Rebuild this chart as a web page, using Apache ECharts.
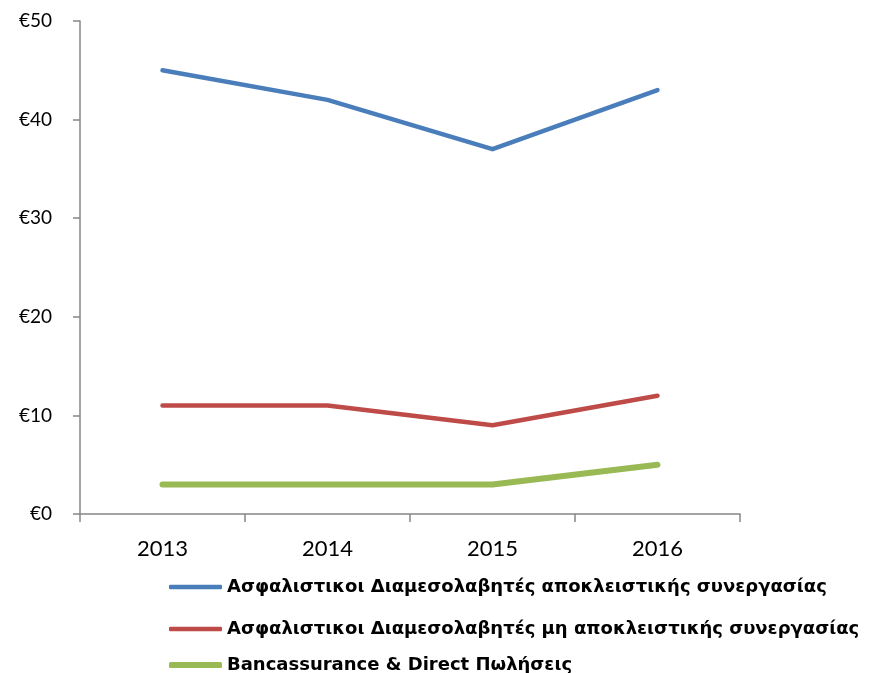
<!DOCTYPE html>
<html>
<head>
<meta charset="utf-8">
<script src="https://cdn.jsdelivr.net/npm/echarts@6/dist/echarts.min.js"></script>
<style>
  html, body { margin: 0; padding: 0; background: #fff; }
  #chart { width: 870px; height: 673px; }
</style>
</head>
<body>
<div id="chart"></div>
<script>
// years on the x axis
var years = ['2013', '2014', '2015', '2016'];
// series names (legend)
var names = [
  'Ασφαλιστικοι Διαμεσολαβητές αποκλειστικής συνεργασίας',
  'Ασφαλιστικοι Διαμεσολαβητές μη αποκλειστικής συνεργασίας',
  'Bancassurance & Direct Πωλήσεις'
];
// values in euro
var exclusive = [45, 42, 37, 43];
var nonExclusive = [11, 11, 9, 12];
var bancassurance = [3, 3, 3, 5];

var colors = ['#4a7ebb', '#be4b48', '#98b954'];
var widths = [4.5, 4.5, 6];
var legendTops = [573, 615, 651];

var myChart = echarts.init(document.getElementById('chart'));

// one legend per row, the rows are not evenly spaced in the original
var legends = names.map(function (n, i) {
  return {
    data: [n],
    left: 164,
    top: legendTops[i],
    icon: 'roundRect',
    itemWidth: 53,
    itemHeight: widths[i],
    itemGap: 3,
    textStyle: {
      fontFamily: 'DejaVu Sans',
      fontWeight: 'bold',
      fontSize: 18,
      color: '#000'
    }
  };
});

var option = {
  animation: false,
  color: colors,
  legend: legends,
  grid: { left: 80, right: 130, top: 21, bottom: 159 },
  xAxis: {
    type: 'category',
    data: years,
    boundaryGap: true,
    axisLine: { lineStyle: { color: '#868686', width: 1.5 } },
    axisTick: { show: true, length: 8, lineStyle: { color: '#868686', width: 1.5 } },
    axisLabel: { color: '#000', fontSize: 22, fontFamily: 'Lato', margin: 24 }
  },
  yAxis: {
    type: 'value',
    min: 0,
    max: 50,
    interval: 10,
    axisLine: { show: true, lineStyle: { color: '#868686', width: 1.5 } },
    axisTick: { show: true, length: 7, lineStyle: { color: '#868686', width: 1.5 } },
    splitLine: { show: false },
    axisLabel: {
      color: '#000', fontSize: 19, fontFamily: 'Lato', margin: 28,
      formatter: function (v) { return '€' + v; }
    }
  },
  series: [exclusive, nonExclusive, bancassurance].map(function (d, i) {
    return {
      name: names[i],
      type: 'line',
      data: d,
      symbol: 'none',
      lineStyle: { width: widths[i], cap: 'round', join: 'round', color: colors[i] }
    };
  })
};
myChart.setOption(option);
</script>
</body>
</html>
